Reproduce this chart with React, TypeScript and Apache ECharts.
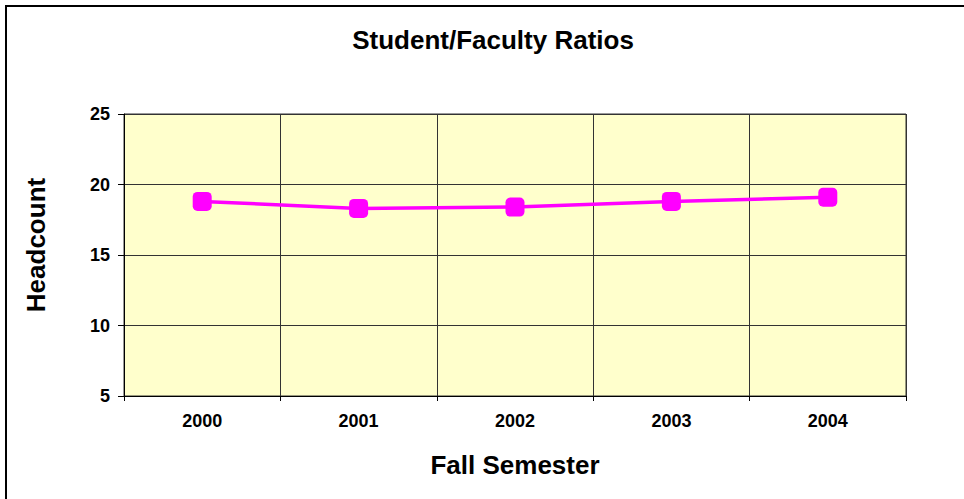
import React, { useEffect, useRef } from "react";
import * as echarts from "echarts";

const categories = ["2000", "2001", "2002", "2003", "2004"];
const ratios = [18.8, 18.3, 18.4, 18.8, 19.1];
const yMin = 5;
const yMax = 25;
const yInterval = 5;

const FONT = "'Liberation Sans', Arial, sans-serif";

export default function App() {
  const ref = useRef<HTMLDivElement>(null);
  useEffect(() => {
    if (!ref.current) return;
    const chart = echarts.init(ref.current, null, { renderer: "svg" });
    chart.setOption({
      animation: false,
      backgroundColor: "#ffffff",
      textStyle: { fontFamily: FONT },
      title: {
        text: "Student/Faculty Ratios",
        left: 493,
        top: 22,
        textAlign: "center",
        textStyle: { fontFamily: FONT, fontWeight: "bold", fontSize: 26, color: "#000" },
      },
      graphic: [
        {
          type: "rect",
          shape: { x: 6, y: 6, width: 1000, height: 1000 },
          style: { fill: "none", stroke: "#000", lineWidth: 2 },
          silent: true,
        },
      ],
      grid: {
        left: 124,
        top: 114,
        right: 58,
        bottom: 103,
        show: true,
        backgroundColor: "#FFFFCC",
        borderColor: "#333",
        borderWidth: 1,
      },
      xAxis: {
        type: "category",
        data: categories,
        boundaryGap: true,
        name: "Fall Semester",
        nameLocation: "middle",
        nameGap: 56,
        nameTextStyle: { fontFamily: FONT, fontWeight: "bold", fontSize: 26, color: "#000" },
        axisLine: { show: true, lineStyle: { color: "#000", width: 1 } },
        axisTick: { show: true, alignWithLabel: false, length: 5, lineStyle: { color: "#000" } },
        axisLabel: { fontFamily: FONT, fontWeight: "bold", fontSize: 18, color: "#000", margin: 16 },
        splitLine: { show: true, lineStyle: { color: "#333", width: 1 } },
      },
      yAxis: {
        type: "value",
        min: yMin,
        max: yMax,
        interval: yInterval,
        name: "Headcount",
        nameLocation: "middle",
        nameGap: 75,
        nameTextStyle: {
          fontFamily: FONT,
          fontWeight: "bold",
          fontSize: 26,
          color: "#000",
          padding: [0, 0, 0, 20],
        },
        axisLine: { show: true, lineStyle: { color: "#000", width: 1 } },
        axisTick: { show: true, length: 6, lineStyle: { color: "#000" } },
        axisLabel: { fontFamily: FONT, fontWeight: "bold", fontSize: 18, color: "#000", margin: 14 },
        splitLine: { show: true, lineStyle: { color: "#333", width: 1 } },
      },
      series: [
        {
          type: "line",
          data: ratios,
          symbol: "roundRect",
          symbolSize: 19,
          lineStyle: { color: "#FF00FF", width: 3.5 },
          itemStyle: { color: "#FF00FF" },
        },
      ],
    });
    chart.setOption({ title: { left: 488 } });
    return () => chart.dispose();
  }, []);
  return (
    <div
      ref={ref}
      style={{ position: "fixed", left: 0, top: 0, width: 964, height: 499 }}
    />
  );
}
